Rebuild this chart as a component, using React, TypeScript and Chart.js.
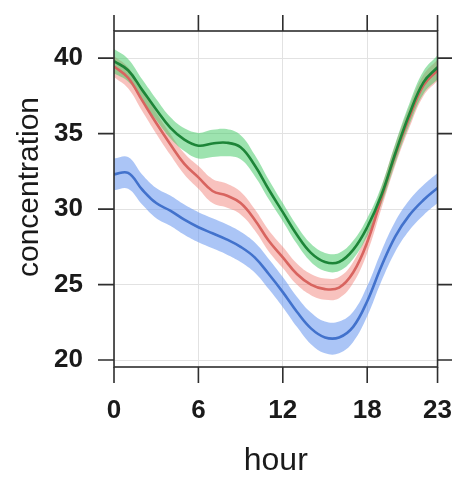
import React, { useEffect, useRef } from "react";
import { Chart, registerables } from "chart.js";

Chart.register(...registerables);

// ---- data ----
const hours = [0, 1, 2, 3, 4, 5, 6, 7, 8, 9, 10, 11, 12, 13, 14, 15, 16, 17, 18, 19, 20, 21, 22, 23];

const greenMean = [39.8, 39.2, 37.9, 36.6, 35.4, 34.6, 34.2, 34.35, 34.4, 34.1, 32.9, 31.3, 29.8, 28.3, 27.1, 26.5, 26.5, 27.3, 28.8, 30.9, 33.7, 36.3, 38.4, 39.4];
const greenCi = [0.8, 0.75, 0.7, 0.7, 0.7, 0.75, 0.85, 0.9, 0.9, 0.8, 0.7, 0.65, 0.6, 0.6, 0.6, 0.6, 0.6, 0.6, 0.6, 0.6, 0.65, 0.7, 0.75, 0.8];

const redMean = [39.45, 38.7, 37.2, 35.7, 34.3, 33.0, 32.1, 31.2, 30.9, 30.4, 29.3, 27.9, 26.8, 25.7, 25.0, 24.7, 24.8, 25.8, 27.8, 30.7, 33.6, 36.1, 38.2, 39.2];
const redCi = [0.7, 0.7, 0.7, 0.7, 0.7, 0.7, 0.75, 0.8, 0.8, 0.75, 0.7, 0.7, 0.7, 0.7, 0.7, 0.7, 0.7, 0.7, 0.7, 0.7, 0.7, 0.7, 0.7, 0.7];

const blueMean = [32.3, 32.4, 31.3, 30.4, 29.9, 29.3, 28.8, 28.4, 28.0, 27.5, 26.8, 25.7, 24.5, 23.2, 22.1, 21.5, 21.5, 22.2, 23.9, 26.2, 28.2, 29.6, 30.6, 31.4];
const blueCi = [1.05, 1.05, 1.0, 1.0, 1.0, 1.0, 1.0, 1.0, 1.0, 1.0, 1.0, 1.0, 1.0, 1.0, 1.05, 1.05, 1.05, 1.0, 1.0, 1.0, 1.0, 1.0, 1.0, 1.0];

const xTicks = [0, 6, 12, 18, 23];
const yTicks = [20, 25, 30, 35, 40];
const xTitle = "hour";
const yTitle = "concentration";

// ---- styles ----
const series = [
  { mean: greenMean, ci: greenCi, line: "#1d8538", band: "rgba(60,200,95,0.5)", order: 1 },
  { mean: redMean, ci: redCi, line: "#d8645f", band: "rgba(240,120,110,0.45)", order: 2 },
  { mean: blueMean, ci: blueCi, line: "#4272cc", band: "rgba(110,155,240,0.58)", order: 3 },
];

const FONT = "'Liberation Sans', Arial, Helvetica, sans-serif";

const framePlugin = {
  id: "latticeFrame",
  afterDatasetsDraw(chart: any) {
    const { ctx, chartArea, scales } = chart;
    const { left, right, top, bottom } = chartArea;
    const x = scales.x;
    const y = scales.y;
    const L = 16;
    ctx.save();
    ctx.strokeStyle = "#2e2e2e";
    ctx.lineWidth = 1.6;
    ctx.strokeRect(left, top, right - left, bottom - top);
    ctx.beginPath();
    for (const v of xTicks) {
      const px = x.getPixelForValue(v);
      ctx.moveTo(px, top - L);
      ctx.lineTo(px, top);
      ctx.moveTo(px, bottom);
      ctx.lineTo(px, bottom + L);
    }
    for (const v of yTicks) {
      const py = y.getPixelForValue(v);
      ctx.moveTo(left - L, py);
      ctx.lineTo(left, py);
      ctx.moveTo(right, py);
      ctx.lineTo(right + L, py);
    }
    ctx.stroke();

    ctx.fillStyle = "#1a1a1a";
    ctx.textAlign = "center";
    ctx.textBaseline = "middle";
    ctx.font = `32px ${FONT}`;
    ctx.fillText(xTitle, (left + right) / 2, bottom + 94);
    ctx.font = `30px ${FONT}`;
    ctx.save();
    ctx.translate(left - 84, (top + bottom) / 2 - 12);
    ctx.rotate(-Math.PI / 2);
    ctx.fillText(yTitle, 0, 0);
    ctx.restore();
    ctx.restore();
  },
};

export default function App() {
  const ref = useRef<HTMLCanvasElement>(null);

  useEffect(() => {
    document.body.style.margin = "0";
    const canvas = ref.current;
    if (!canvas) return;

    const datasets: any[] = [];
    series.forEach((s, i) => {
      datasets.push({
        data: hours.map((h, k) => ({ x: h, y: s.mean[k] - s.ci[k] })),
        borderWidth: 0,
        pointRadius: 0,
        fill: false,
        order: 10 + i,
      });
      datasets.push({
        data: hours.map((h, k) => ({ x: h, y: s.mean[k] + s.ci[k] })),
        borderWidth: 0,
        pointRadius: 0,
        fill: "-1",
        backgroundColor: s.band,
        order: 10 + i,
      });
    });
    series.forEach((s) => {
      datasets.push({
        data: hours.map((h, k) => ({ x: h, y: s.mean[k] })),
        borderColor: s.line,
        borderWidth: 2.6,
        pointRadius: 0,
        fill: false,
        order: s.order,
      });
    });

    const tickFont = { family: FONT, size: 26, weight: "bold" as const };
    const gridBase = { color: "#e2e2e2", lineWidth: 1, drawTicks: true, tickColor: "rgba(0,0,0,0)" };

    const chart = new Chart(canvas, {
      type: "line",
      data: { datasets },
      options: {
        responsive: false,
        animation: false,
        events: [],
        layout: { autoPadding: false, padding: { top: 31, right: 14, left: 0, bottom: 0 } },
        elements: { line: { tension: 0.4 }, point: { radius: 0 } },
        plugins: { legend: { display: false }, tooltip: { enabled: false } },
        scales: {
          x: {
            type: "linear",
            min: 0,
            max: 23,
            afterBuildTicks: (s: any) => {
              s.ticks = xTicks.map((v) => ({ value: v }));
            },
            afterFit: (s: any) => {
              s.height = 116;
            },
            grid: { ...gridBase, tickLength: 28 },
            border: { display: false },
            ticks: { padding: 0, font: tickFont, color: "#1a1a1a", maxRotation: 0, autoSkip: false },
          },
          y: {
            type: "linear",
            min: 19.54,
            max: 41.8,
            afterBuildTicks: (s: any) => {
              s.ticks = yTicks.map((v) => ({ value: v }));
            },
            afterFit: (s: any) => {
              s.width = 114;
            },
            grid: { ...gridBase, tickLength: 31 },
            border: { display: false },
            ticks: { padding: 0, font: tickFont, color: "#1a1a1a", autoSkip: false },
          },
        },
      },
      plugins: [framePlugin],
    });
    return () => chart.destroy();
  }, []);

  return (
    <div style={{ width: 452, height: 483 }}>
      <canvas ref={ref} width={452} height={483} />
    </div>
  );
}
